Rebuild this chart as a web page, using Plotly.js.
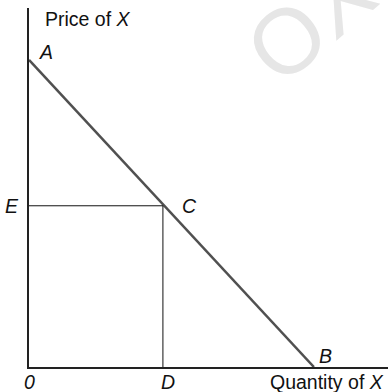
<!DOCTYPE html>
<html>
<head>
<meta charset="utf-8">
<script src="https://cdn.plot.ly/plotly-3.0.1.min.js"></script>
<style>html,body{margin:0;padding:0;background:#fff;}</style>
</head>
<body>
<div id="chart" style="width:388px;height:392px;"></div>
<script>
// Demand line from A to B
var demandX = [0, 10];
var demandY = [10, 0];
// Point C on the demand line
var pointC = {x: 4.7, y: 5.25};
// Point labels (data units)
var labelText = ["A", "B", "C", "E", "D", "0"];
var labelX = [0.6, 10.42, 5.65, -0.6, 4.88, 0];
var labelY = [10.26, 0.36, 5.24, 5.24, -0.49, -0.49];
var xAxisTitle = "Quantity of <i>X</i>";
var yAxisTitle = "Price of <i>X</i>";
var watermark = "OX";

var xr = [0, 12.6], yr = [0, 11.69];
function px(v) { return (v - xr[0]) / (xr[1] - xr[0]); }
function py(v) { return (v - yr[0]) / (yr[1] - yr[0]); }

var font = {family: "Liberation Sans, Arial, sans-serif", size: 19.5, color: "#111"};

var traces = [
  {x: demandX, y: demandY, mode: "lines", line: {color: "#505050", width: 2.5}, hoverinfo: "skip"},
  {x: [0, pointC.x, pointC.x], y: [pointC.y, pointC.y, 0], mode: "lines", line: {color: "#111", width: 1}, hoverinfo: "skip"}
];

var annotations = [];
for (var i = 0; i < labelText.length; i++) {
  annotations.push({x: px(labelX[i]), y: py(labelY[i]), xref: "paper", yref: "paper", text: "<i>" + labelText[i] + "</i>",
    showarrow: false, font: font, xanchor: "center", yanchor: "middle"});
}
annotations.push({x: px(12.53), y: py(-0.49), xref: "paper", yref: "paper", text: xAxisTitle, showarrow: false, font: font, xanchor: "right", yanchor: "middle"});
annotations.push({x: px(0.49), y: py(11.34), xref: "paper", yref: "paper", text: yAxisTitle, showarrow: false, font: font, xanchor: "left", yanchor: "middle"});
// watermark
annotations.push({x: (310 - 29) / 359, y: (367 - 21) / 359, xref: "paper", yref: "paper", text: watermark, showarrow: false, textangle: -40,
  xanchor: "center", yanchor: "middle",
  font: {family: "Liberation Sans, Arial, sans-serif", size: 92, color: "#e6e6e6"}});

var layout = {
  width: 388, height: 392,
  margin: {l: 29, r: 0, t: 8, b: 25, pad: 0},
  paper_bgcolor: "#fff", plot_bgcolor: "#fff",
  showlegend: false,
  xaxis: {range: xr, showgrid: false, zeroline: false, showticklabels: false, ticks: "",
    showline: true, linecolor: "#222", linewidth: 2},
  yaxis: {range: yr, showgrid: false, zeroline: false, showticklabels: false, ticks: "",
    showline: true, linecolor: "#222", linewidth: 2},
  annotations: annotations
};

Plotly.newPlot("chart", traces, layout, {displayModeBar: false, staticPlot: true});
</script>
</body>
</html>
